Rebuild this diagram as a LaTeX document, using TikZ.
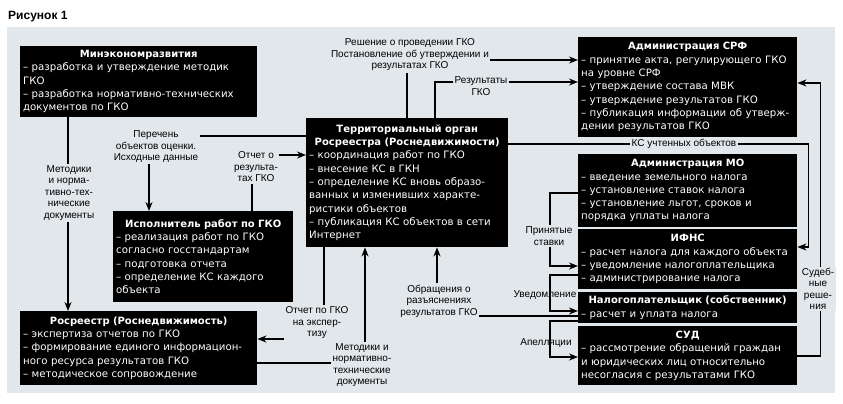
\documentclass[tikz,border=0pt]{standalone}
\usepackage{fontspec}
\setmainfont{Liberation Sans}
\newfontfamily\boxfont{DejaVu Sans}
\usetikzlibrary{arrows.meta,calc}
\definecolor{panel}{HTML}{E2E7EB}
\newcommand\boxhead[1]{\makebox[\hsize]{\bfseries\fontsize{10}{13.3}\selectfont #1}}

\begin{document}
\begin{tikzpicture}[x=1pt,y=-1pt]
  % Styles
  \tikzset{
    block/.style={fill=black, text=white, anchor=north west, align=left, inner xsep=3pt, inner ysep=2pt, font=\boxfont\fontsize{10.2}{13.3}\selectfont},
    note/.style={fill=panel, align=center, inner sep=1.5pt, font=\fontsize{10}{11.5}\selectfont},
    line/.style={-{Stealth[length=9pt,width=7pt]}, line width=1.8pt},
  }
  \useasboundingbox (0,0) rectangle (843,404);
  \fill[panel] (7,27) rectangle (835,393);
  \node[anchor=north west, inner sep=0pt, font=\bfseries\fontsize{12}{14}\selectfont] (title) at (8,11) {Рисунок 1};

  % Left column
  \node[block, text width=231pt, minimum height=71pt] (mer) at (20,46) {\boxhead{Минэкономразвития}\\– разработка и утверждение методик\\ГКО\\– разработка нормативно-технических\\документов по ГКО};
  \node[block, text width=174pt, minimum height=91pt] (isp) at (113,211) {\boxhead{Исполнитель работ по ГКО}\\– реализация работ по ГКО\\согласно госстандартам\\– подготовка отчета\\– определение КС каждого\\объекта};
  \node[block, text width=231pt, minimum height=74pt] (ros) at (20,311) {\boxhead{Росреестр (Роснедвижимость)}\\– экспертиза отчетов по ГКО\\– формирование единого информацион-\\ного ресурса результатов ГКО\\– методическое сопровождение};

  % Centre
  \node[block, text width=196pt, minimum height=129pt] (terr) at (306,118) {\boxhead{Территориальный орган}\\\boxhead{Росреестра (Роснедвижимости)}\\– координация работ по ГКО\\– внесение КС в ГКН\\– определение КС вновь образо-\\ванных и изменивших характе-\\ристики объектов\\– публикация КС объектов в сети\\Интернет};

  % Right column
  \node[block, text width=213pt, minimum height=100pt] (srf) at (578,37) {\boxhead{Администрация СРФ}\\– принятие акта, регулирующего ГКО\\на уровне СРФ\\– утверждение состава МВК\\– утверждение результатов ГКО\\– публикация информации об утверж-\\дении результатов ГКО};
  \node[block, text width=213pt, minimum height=73pt] (mo) at (578,154) {\boxhead{Администрация МО}\\– введение земельного налога\\– установление ставок налога\\– установление льгот, сроков и\\порядка уплаты налога};
  \node[block, text width=213pt, minimum height=60pt] (ifns) at (578,229) {\boxhead{ИФНС}\\– расчет налога для каждого объекта\\– уведомление налогоплательщика\\– администрирование налога};
  \node[block, text width=213pt, minimum height=31pt] (nal) at (578,292) {\boxhead{Налогоплательщик (собственник)}\\– расчет и уплата налога};
  \node[block, text width=213pt, minimum height=59pt] (sud) at (578,326) {\boxhead{СУД}\\– рассмотрение обращений граждан\\и юридических лиц относительно\\несогласия с результатами ГКО};

  % Edges
  \draw[line] ($(mer.south west)+(48,0)$) -- ($(ros.north west)+(48,0)$);
  \draw[line] ($(terr.north west)+(0,18)$) -| ($(isp.north west)+(36,0)$);
  \draw[line] ($(isp.north west)+(139,0)$) |- ($(terr.north west)+(0,37)$);
  \draw[line] ($(terr.north west)+(101,0)$) |- ($(srf.north west)+(0,23)$);
  \draw[line] ($(terr.north west)+(129,0)$) |- ($(srf.north west)+(0,45)$);
  \draw[line] ($(terr.north east)+(0,26)$) -| ($(ifns.north east)+(11,18)$) -- ($(ifns.north east)+(0,18)$);
  \draw[line] ($(sud.north east)+(0,30)$) -| ($(srf.north east)+(23,46)$) -- ($(srf.north east)+(0,46)$);
  \draw[line] ($(mo.north west)+(0,39)$) -| ($(ifns.north west)+(-28,37)$) -- ($(ifns.north west)+(0,37)$);
  \draw[line] ($(ifns.north west)+(0,46)$) -| ($(nal.north west)+(-28,19)$) -- ($(nal.north west)+(0,19)$);
  \draw[line] ($(nal.north west)+(0,24)$) -| ($(terr.south west)+(131,0)$);
  \draw[line] ($(nal.north west)+(0,29)$) -| ($(sud.north west)+(-28,31)$) -- ($(sud.north west)+(0,31)$);
  \draw[line] ($(terr.south west)+(18,0)$) |- ($(ros.north east)+(0,28)$);
  \draw[line] ($(ros.north east)+(0,52)$) -| ($(terr.south west)+(59,0)$);

  % Edge labels
  \node[note] (lmet) at (69,193) {Методики\\и норма-\\тивно-тех-\\нические\\документы};
  \node[note] (lper) at (156,147) {Перечень\\объектов оценки.\\Исходные данные};
  \node[note] (lotch) at (256,167) {Отчет о\\результа-\\тах ГКО};
  \node[note] (lres) at (410,55) {Решение о проведении ГКО\\Постановление об утверждении и\\результатах ГКО};
  \node[note] (lrez) at (481,86) {Результаты\\ГКО};
  \node[note] (lks) at (684,144) {КС учтенных объектов};
  \node[note] (lsud) at (818,289) {Судеб-\\ные\\реше-\\ния};
  \node[note] (lprin) at (549,236) {Принятые\\ставки};
  \node[note, fill=none] (luv) at (545,295) {Уведомление};
  \node[note] (lobr) at (439,301) {Обращения о\\разъяснениях\\результатов ГКО};
  \node[note, fill=none] (lap) at (546,343) {Апелляции};
  \node[note] (lexp) at (317,323) {Отчет по ГКО\\на экспер-\\тизу};
  \node[note] (lmet2) at (362,365) {Методики и\\нормативно-\\технические\\документы};
\end{tikzpicture}
\end{document}
